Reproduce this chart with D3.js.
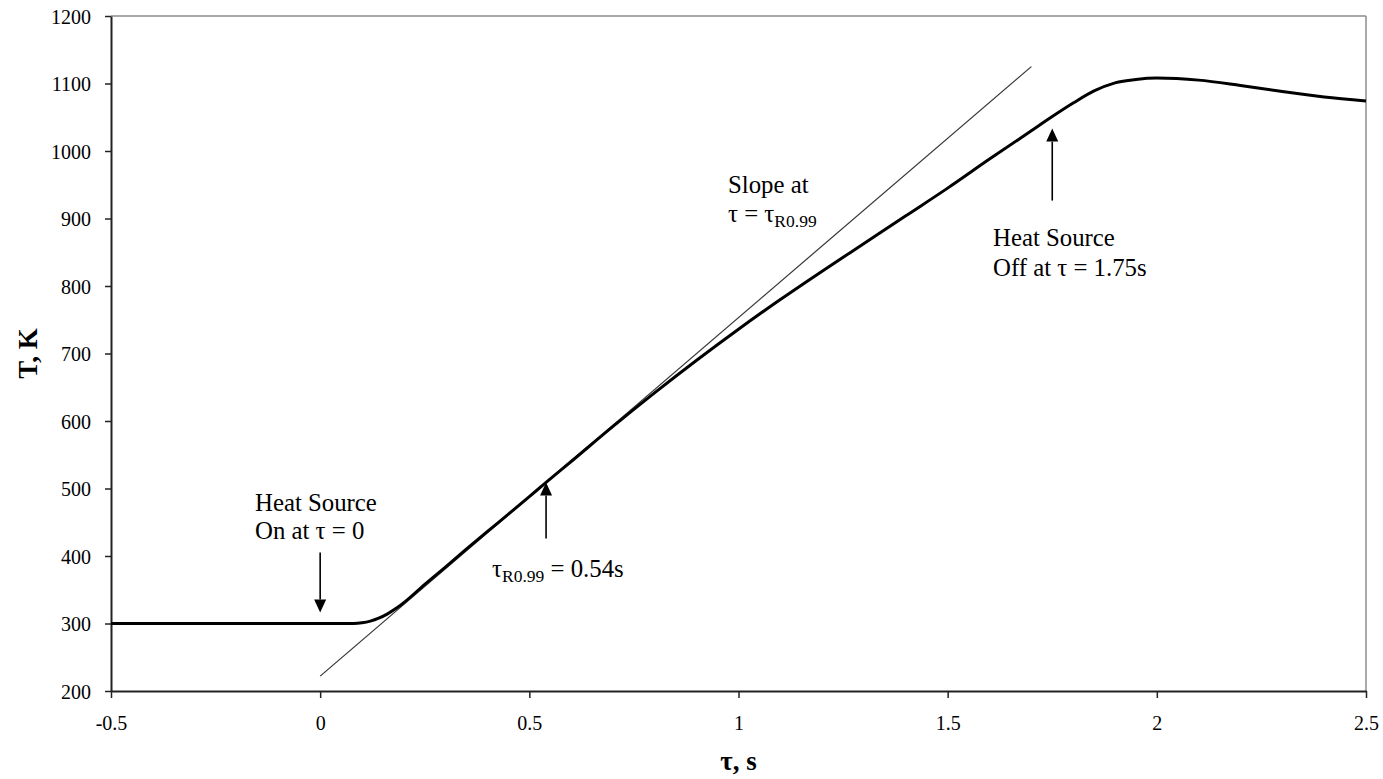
<!DOCTYPE html>
<html>
<head>
<meta charset="utf-8">
<script src="https://cdn.jsdelivr.net/npm/d3@7"></script>
<style>
  html, body { margin: 0; padding: 0; background: #fff; }
  svg { display: block; }
  text { font-family: "Liberation Serif", "Times New Roman", serif; fill: #000; }
</style>
</head>
<body>
<svg id="chart" width="1383" height="779"></svg>
<script>
// Surface temperature history: heat source switched on at τ = 0 and off at τ = 1.75 s
const tau = [-0.5, 0.0, 0.08, 0.1, 0.12, 0.14, 0.16, 0.18, 0.2, 0.25, 0.3, 0.35, 0.4, 0.45,
             0.5, 0.54, 0.6, 0.7, 0.8, 0.9, 1.0, 1.1, 1.2, 1.3, 1.4, 1.5, 1.6, 1.7, 1.75,
             1.8, 1.85, 1.9, 1.95, 2.0, 2.1, 2.2, 2.3, 2.4, 2.5];
const temperature = [300, 300, 300, 301, 303.5, 307.8, 313.9, 321.7, 331, 358, 384, 410.5, 436.5, 462,
                     488, 509, 540, 592, 642, 690, 736, 780, 822, 863, 904, 945, 988, 1030, 1051,
                     1071, 1089, 1101, 1106, 1108, 1105, 1097, 1088, 1080, 1074];

// Tangent to the curve at τ = τR0.99
const tangentTau = [0.0, 1.70];
const tangentT = [222, 1125];

// Axis ticks
const xTicks = [-0.5, 0, 0.5, 1, 1.5, 2, 2.5];
const xTickLabels = ["-0.5", "0", "0.5", "1", "1.5", "2", "2.5"];
const yTicks = [200, 300, 400, 500, 600, 700, 800, 900, 1000, 1100, 1200];

// Annotated instants
const tauOn = 0;
const tauR099 = 0.54;
const tauOff = 1.75;

const svg = d3.select("#chart");
const plotLeft = 111, plotRight = 1366, plotTop = 16, plotBottom = 691;

const x = d3.scaleLinear().domain([-0.5, 2.5]).range([plotLeft, plotRight]);
const y = d3.scaleLinear().domain([200, 1200]).range([plotBottom, plotTop]);

const data = tau.map((t, i) => ({ t, T: temperature[i] }));
const Tat = t => {
  const i = d3.bisector(d => d.t).right(data, t) - 1;
  const a = data[Math.max(0, i)], b = data[Math.min(data.length - 1, i + 1)];
  if (b.t === a.t) return a.T;
  return a.T + (b.T - a.T) * (t - a.t) / (b.t - a.t);
};

// Frame (top and right)
svg.append("line").attr("x1", plotLeft).attr("x2", plotRight).attr("y1", plotTop).attr("y2", plotTop)
  .attr("stroke", "#8c8c8c").attr("stroke-width", 1.5);
svg.append("line").attr("x1", plotRight).attr("x2", plotRight).attr("y1", plotTop).attr("y2", plotBottom)
  .attr("stroke", "#8c8c8c").attr("stroke-width", 1.5);

// Axes
const xAxis = d3.axisBottom(x).tickValues(xTicks).tickFormat((d, i) => xTickLabels[i])
  .tickSizeOuter(0).tickSizeInner(7).tickPadding(18);
const yAxis = d3.axisLeft(y).tickValues(yTicks).tickFormat(d3.format("d"))
  .tickSizeOuter(0).tickSizeInner(6).tickPadding(14);

const gx = svg.append("g").attr("transform", `translate(0,${plotBottom})`).call(xAxis);
const gy = svg.append("g").attr("transform", `translate(${plotLeft},0)`).call(yAxis);
[gx, gy].forEach(g => {
  g.select(".domain").attr("stroke", "#222").attr("stroke-width", 2);
  g.selectAll(".tick line").attr("stroke", "#222").attr("stroke-width", 1.5);
  g.selectAll(".tick text").attr("font-family", "Liberation Serif, Times New Roman, serif")
    .attr("font-size", 20).attr("fill", "#111");
});
gy.selectAll(".tick text").attr("dy", "0.35em");

// Axis titles
svg.append("text").attr("x", (plotLeft + plotRight) / 2).attr("y", 770).attr("text-anchor", "middle")
  .attr("font-weight", "bold").attr("font-size", 27).text("τ, s");
svg.append("text").attr("transform", `translate(37,${(plotTop + plotBottom) / 2}) rotate(-90)`)
  .attr("text-anchor", "middle").attr("font-weight", "bold").attr("font-size", 27).text("T, K");

// Tangent line
svg.append("line")
  .attr("x1", x(tangentTau[0])).attr("y1", y(tangentT[0]))
  .attr("x2", x(tangentTau[1])).attr("y2", y(tangentT[1]))
  .attr("stroke", "#333").attr("stroke-width", 1.2);

// Temperature curve
const line = d3.line().x(d => x(d.t)).y(d => y(d.T)).curve(d3.curveMonotoneX);
svg.append("path").datum(data).attr("d", line)
  .attr("fill", "none").attr("stroke", "#000").attr("stroke-width", 3)
  .attr("stroke-linejoin", "round");

// Arrows
function arrow(xp, yFrom, yTo) {
  const dir = yTo > yFrom ? 1 : -1;
  const headLen = 13, headHalf = 6;
  svg.append("line").attr("x1", xp).attr("x2", xp)
    .attr("y1", yFrom).attr("y2", yTo - dir * headLen)
    .attr("stroke", "#000").attr("stroke-width", 1.6);
  svg.append("path")
    .attr("d", `M${xp},${yTo} L${xp - headHalf},${yTo - dir * headLen} L${xp + headHalf},${yTo - dir * headLen} Z`)
    .attr("fill", "#000");
}
arrow(x(tauOn), y(Tat(tauOn)) - 71, y(Tat(tauOn)) - 11);
arrow(x(tauR099), y(Tat(tauR099)) + 56, y(Tat(tauR099)));
arrow(x(tauOff), y(Tat(tauOff)) + 84, y(Tat(tauOff)) + 12);

// Annotation text
const FS = 24.8, SUB = 17.5;
function label(xp, yp, parts) {
  const t = svg.append("text").attr("x", xp).attr("y", yp).attr("font-size", FS);
  let shift = 0;
  parts.forEach(p => {
    const sp = t.append("tspan").text(p.s);
    if (p.sub) { sp.attr("font-size", SUB).attr("dy", 5 - shift); shift = 5; }
    else if (shift) { sp.attr("dy", -shift); shift = 0; }
  });
}
label(255, 511, [{ s: "Heat Source" }]);
label(255, 539, [{ s: "On at τ = 0" }]);
label(492, 577, [{ s: "τ" }, { s: "R0.99", sub: true }, { s: " = 0.54s" }]);
label(728, 193, [{ s: "Slope at" }]);
label(728, 222, [{ s: "τ = τ" }, { s: "R0.99", sub: true }]);
label(993, 246, [{ s: "Heat Source" }]);
label(993, 276, [{ s: "Off at τ = 1.75s" }]);
</script>
</body>
</html>
